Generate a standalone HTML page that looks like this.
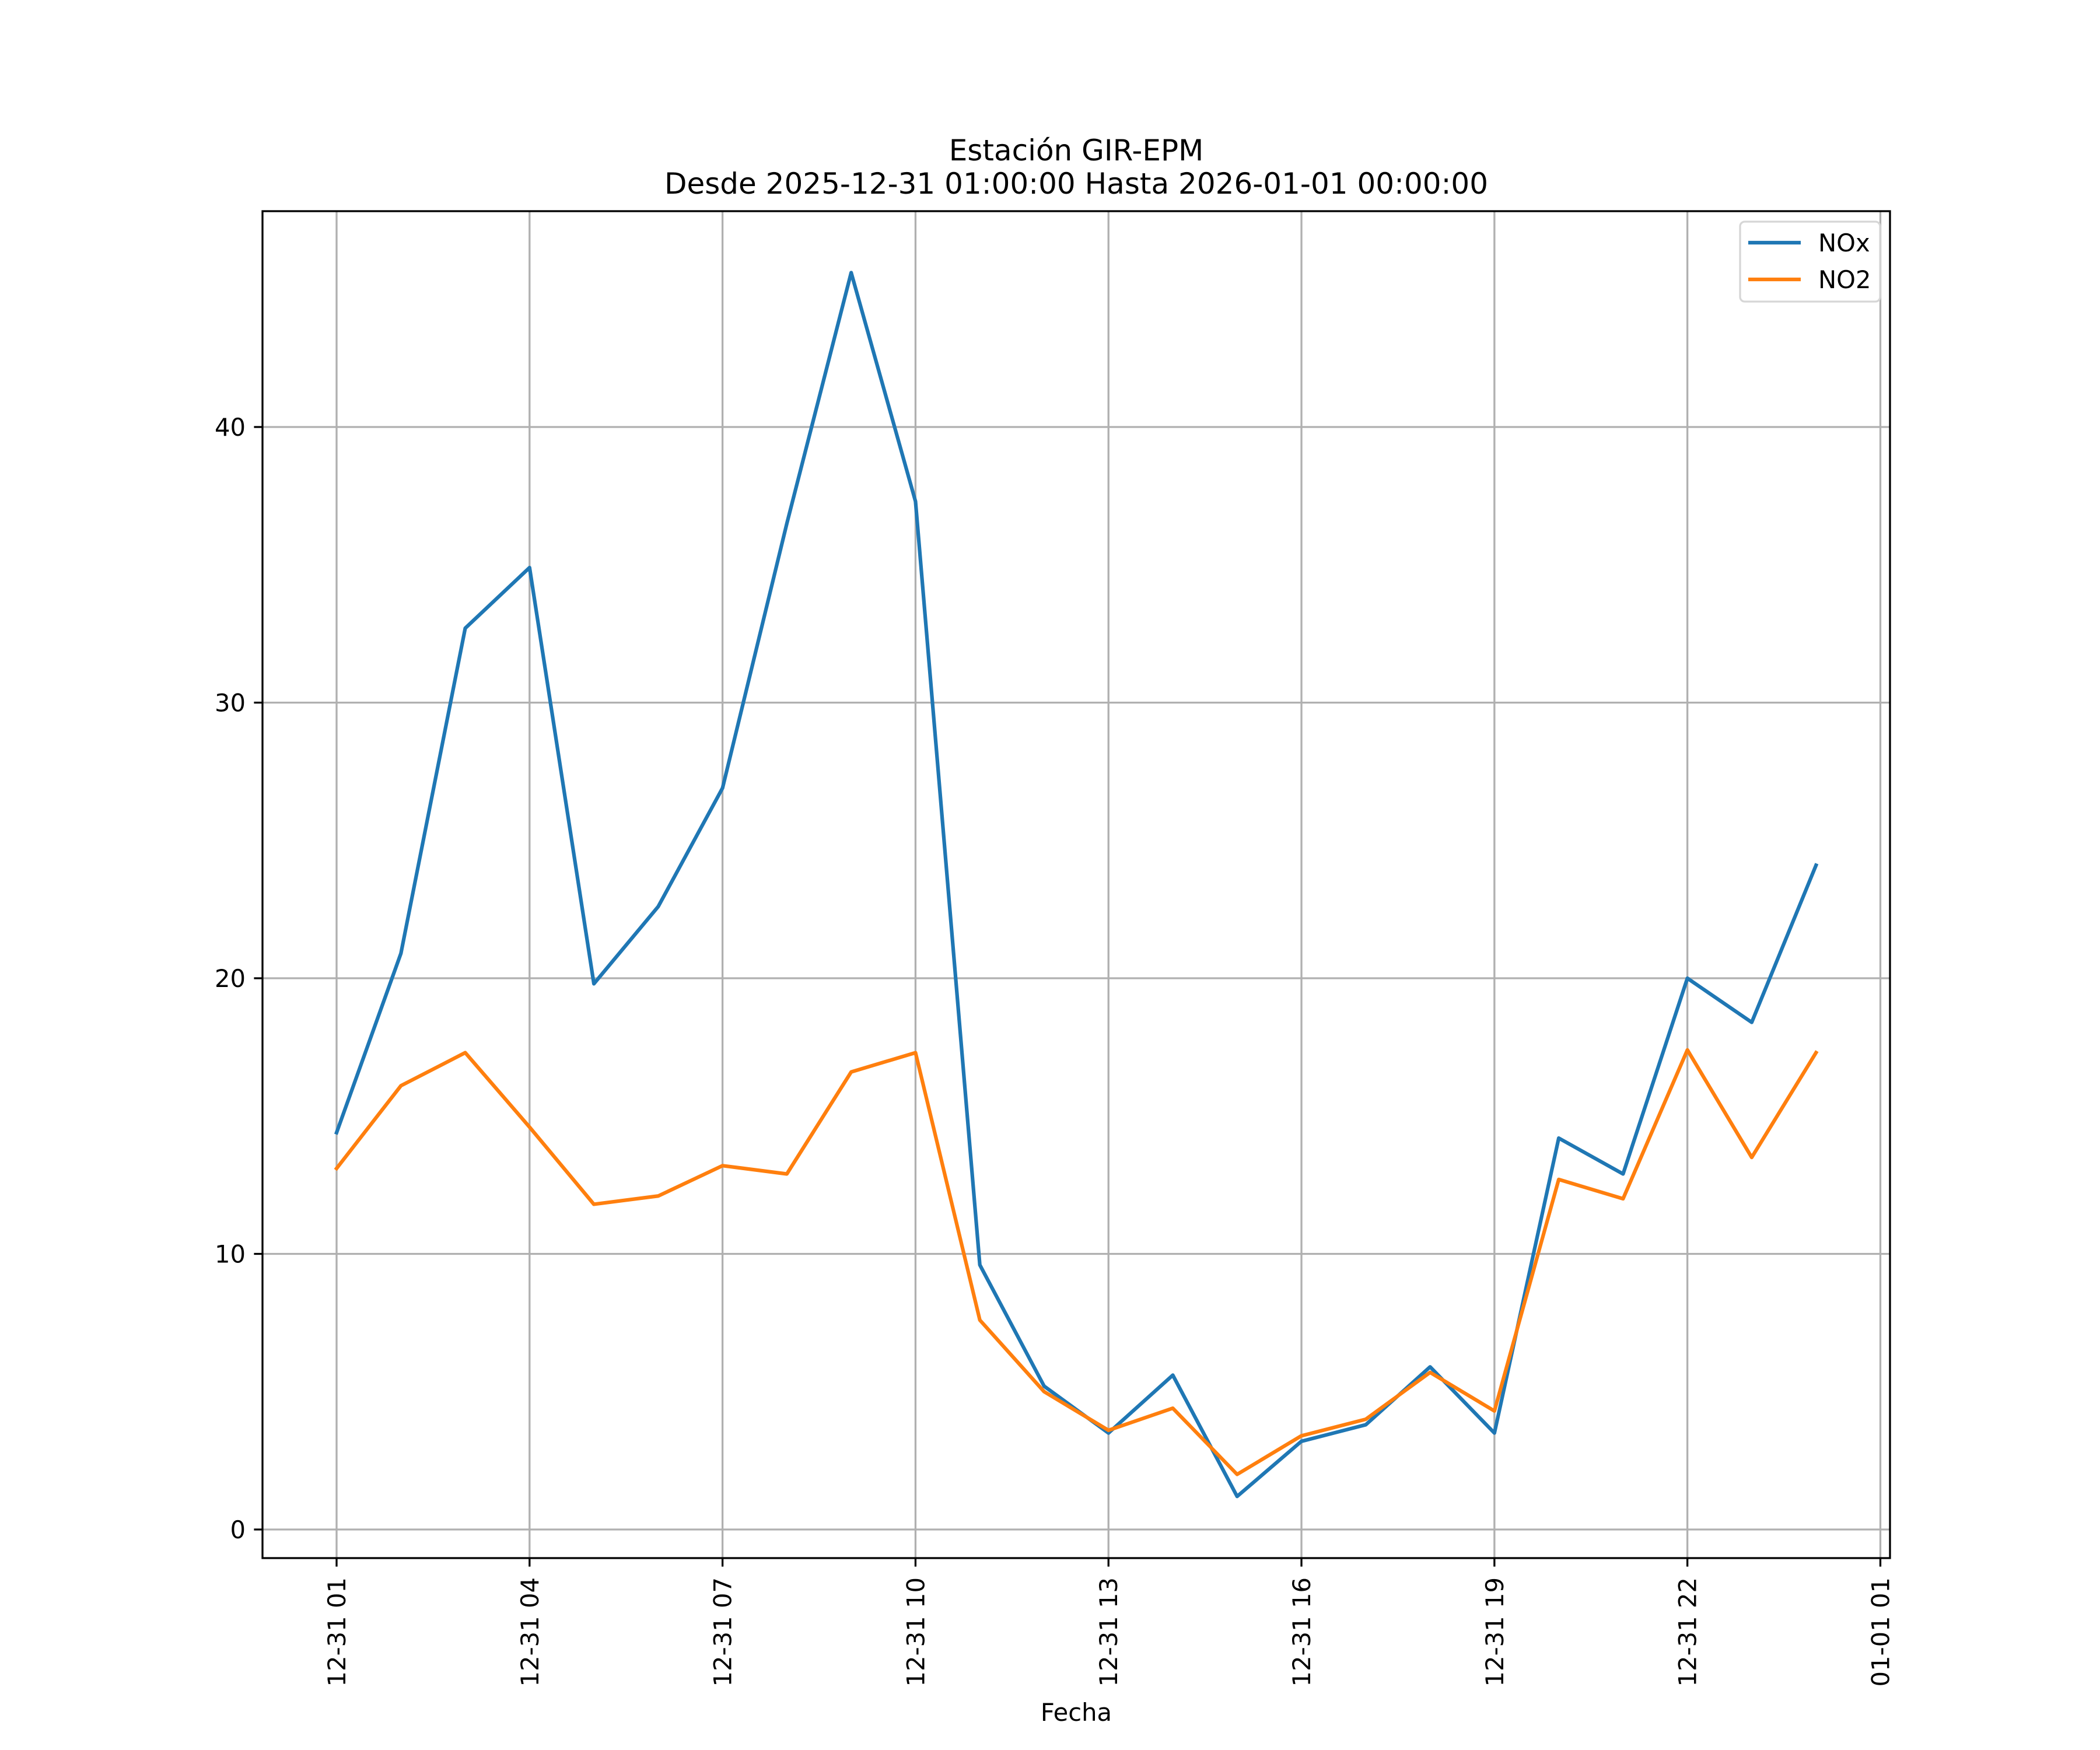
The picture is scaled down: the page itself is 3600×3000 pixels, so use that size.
<!DOCTYPE html>
<html><head><meta charset="utf-8"><style>html,body{margin:0;padding:0;background:#fff}svg{display:block}</style></head>
<body>
<svg id="chart" xmlns="http://www.w3.org/2000/svg" width="3600" height="3000" viewBox="0 0 3600 3000" font-family="'DejaVu Sans','Liberation Sans',sans-serif">
<rect width="3600" height="3000" fill="#fff"/>
<g id="grid"></g>
<g id="series"></g>
<rect x="450" y="362" width="2790" height="2309" fill="none" stroke="#000" stroke-width="3.3"/>
<g id="ticks"></g>
<text x="1845" y="275" font-size="50" text-anchor="middle">Estación GIR-EPM</text>
<text x="1845" y="332" font-size="50" text-anchor="middle">Desde 2025-12-31 01:00:00 Hasta 2026-01-01 00:00:00</text>
<text x="1845" y="2950" font-size="41.7" text-anchor="middle">Fecha</text>
<g>
<rect x="2983" y="380" width="240" height="137" rx="8" fill="#fff" fill-opacity="0.8" stroke="#d6d6d6" stroke-width="3.3"/>
<line x1="2997" y1="416" x2="3087" y2="416" stroke="#1f77b4" stroke-width="6.25"/>
<text x="3117" y="431" font-size="41.7">NOx</text>
<line x1="2997" y1="479" x2="3087" y2="479" stroke="#ff7f0e" stroke-width="6.25"/>
<text x="3117" y="494" font-size="41.7">NO2</text>
</g>
</svg>
<script>
const hours = [0,1,2,3,4,5,6,7,8,9,10,11,12,13,14,15,16,17,18,19,20,21,22,23];
const noxValues = [14.4,20.9,32.7,34.9,19.8,22.6,26.9,36.5,45.6,37.3,9.6,5.2,3.5,5.6,1.2,3.2,3.8,5.9,3.5,14.2,12.9,20.0,18.4,24.1];
const no2Values = [13.1,16.1,17.3,14.6,11.8,12.1,13.2,12.9,16.6,17.3,7.6,5.0,3.6,4.4,2.0,3.4,4.0,5.7,4.3,12.7,12.0,17.4,13.5,17.3];
const yTicks = [0,10,20,30,40];
const xTickHours = [0,3,6,9,12,15,18,21,24];
const xTickLabels = ["12-31 01","12-31 04","12-31 07","12-31 10","12-31 13","12-31 16","12-31 19","12-31 22","01-01 01"];

const NS="http://www.w3.org/2000/svg";
const L=450,R=3240,T=362,B=2671;
function xs(h){return 577+110.27*h;}
function ys(v){return 2622-47.25*v;}
function mk(tag,attrs,parent){const e=document.createElementNS(NS,tag);for(const k in attrs)e.setAttribute(k,attrs[k]);parent.appendChild(e);return e;}
const grid=document.getElementById('grid'),ticks=document.getElementById('ticks'),series=document.getElementById('series');
yTicks.forEach(v=>{
  const y=ys(v);
  const g=mk('line',{x1:L,x2:R,y1:y,y2:y,stroke:'#b0b0b0','stroke-width':3.3},grid);
  
  
  mk('line',{x1:L-14.6,x2:L,y1:y,y2:y,stroke:'#000','stroke-width':3.3},ticks);
  const t=mk('text',{x:L-29,y:y+15,'font-size':41.7,'text-anchor':'end'},ticks);
  t.textContent=v;
  
  
});
xTickHours.forEach((h,i)=>{
  const x=xs(h);
  const g=mk('line',{x1:x,x2:x,y1:T,y2:B,stroke:'#b0b0b0','stroke-width':3.3},grid);
  
  
  mk('line',{x1:x,x2:x,y1:B,y2:B+14.6,stroke:'#000','stroke-width':3.3},ticks);
  const t=mk('text',{x:0,y:0,'font-size':41.7,'text-anchor':'end',transform:`translate(${x+15},2704) rotate(-90)`},ticks);
  t.textContent=xTickLabels[i];
  
  
});
function line(vals,color,name){
  const p=mk('polyline',{points:vals.map((v,i)=>xs(hours[i])+','+ys(v)).join(' '),fill:'none',stroke:color,'stroke-width':6.25,'stroke-linejoin':'round','stroke-linecap':'square'},series);
  
  
}
line(noxValues,'#1f77b4','nox-line');
line(no2Values,'#ff7f0e','no2-line');
</script>
</body></html>
